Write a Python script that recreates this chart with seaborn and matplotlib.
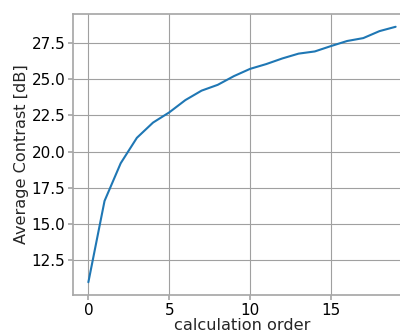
import matplotlib
matplotlib.use("Agg")
import matplotlib.pyplot as plt
import seaborn as sns
import pandas as pd

# Average contrast per calculation order
order = list(range(20))
contrast_db = [11.0, 16.6, 19.2, 20.95, 22.0, 22.7, 23.55, 24.2, 24.6, 25.2,
               25.7, 26.03, 26.42, 26.75, 26.9, 27.27, 27.62, 27.82, 28.3, 28.6]

df = pd.DataFrame({"calculation order": order, "Average Contrast [dB]": contrast_db})

sns.set_theme(style="whitegrid", rc={
    "axes.edgecolor": "#a8a8a8",
    "grid.color": "#a0a0a0",
    "grid.linewidth": 0.8,
    "xtick.bottom": True,
    "ytick.left": True,
    "xtick.color": "#a8a8a8",
    "ytick.color": "#a8a8a8",
    "xtick.labelcolor": "black",
    "ytick.labelcolor": "black",
    "xtick.major.size": 3.5,
    "ytick.major.size": 3.5,
})
plt.rcParams["font.family"] = ["DejaVu Sans"]

fig = plt.figure(figsize=(4.0, 3.31), dpi=100)
ax = fig.add_axes([73 / 400, 36 / 331, 338 / 400, 281 / 331])

sns.lineplot(data=df, x="calculation order", y="Average Contrast [dB]",
             ax=ax, color="#1f77b4", linewidth=1.5)

ax.set_xticks([0, 5, 10, 15])
ax.set_yticks([12.5, 15.0, 17.5, 20.0, 22.5, 25.0, 27.5])
ax.tick_params(labelsize=11, pad=2)
ax.set_xlabel("calculation order", fontsize=11.6, labelpad=0)
ax.set_ylabel("Average Contrast [dB]", fontsize=11.6, labelpad=2)
ax.margins(x=0.05, y=0.05)

fig.savefig("out.png", dpi=100)
